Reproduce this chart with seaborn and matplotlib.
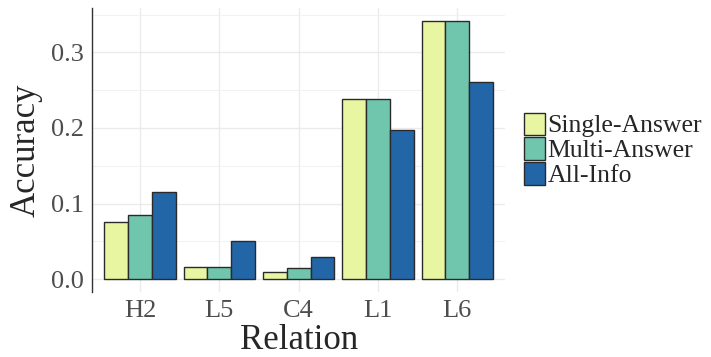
import pandas as pd
import matplotlib
matplotlib.use("Agg")
import matplotlib.pyplot as plt
from matplotlib.ticker import MultipleLocator
import seaborn as sns

# Data
relations = ["H2", "L5", "C4", "L1", "L6"]
methods = ["Single-Answer", "Multi-Answer", "All-Info"]
single_answer = [0.075, 0.0155, 0.0097, 0.2387, 0.342]
multi_answer = [0.0845, 0.0165, 0.0147, 0.2387, 0.342]
all_info = [0.115, 0.050, 0.0297, 0.1977, 0.261]
colors = ["#e8f6a1", "#70c5ad", "#2366a8"]

df = pd.DataFrame({
    "Relation": relations * 3,
    "Method": [m for m in methods for _ in relations],
    "Accuracy": single_answer + multi_answer + all_info,
})

sns.set_style("white")
plt.rcParams["font.family"] = ["Liberation Serif", "DejaVu Serif"]

fig = plt.figure(figsize=(7.11, 3.57), dpi=100)
ax = fig.add_axes([0.13, 0.182, 0.58, 0.796])

sns.barplot(data=df, x="Relation", y="Accuracy", hue="Method",
            order=relations, hue_order=methods, palette=colors,
            saturation=1, width=0.9, edgecolor="#2a2a2a", linewidth=1.0,
            ax=ax, errorbar=None, zorder=3)

ax.set_xlim(-0.6, 4.6)
ax.set_ylim(-0.0171, 0.359)
ax.yaxis.set_minor_locator(MultipleLocator(0.05))
ax.set_yticks([0.0, 0.1, 0.2, 0.3])
ax.set_yticklabels(["0.0", "0.1", "0.2", "0.3"])

ax.grid(True, which="major", color="#ebebeb", linewidth=1.0, zorder=0)
ax.grid(True, which="minor", axis="y", color="#f2f2f2", linewidth=0.8, zorder=0)
ax.set_axisbelow(True)

for side in ["top", "right", "bottom"]:
    ax.spines[side].set_visible(False)
ax.spines["left"].set_color("#333333")
ax.spines["left"].set_linewidth(1.0)

ax.tick_params(axis="both", which="both", length=0, labelsize=19,
               labelcolor="#4d4d4d", pad=6)
ax.set_xlabel("Relation", fontsize=25, labelpad=1)
ax.set_ylabel("Accuracy", fontsize=25, labelpad=6)

ax.legend(title=None, loc="center left", bbox_to_anchor=(1.047, 0.5),
          frameon=False, fontsize=18.5, handlelength=0.8, handleheight=0.95,
          handletextpad=0.1, labelspacing=0.0, borderaxespad=0,
          borderpad=0)

fig.savefig("out.png", dpi=100)
